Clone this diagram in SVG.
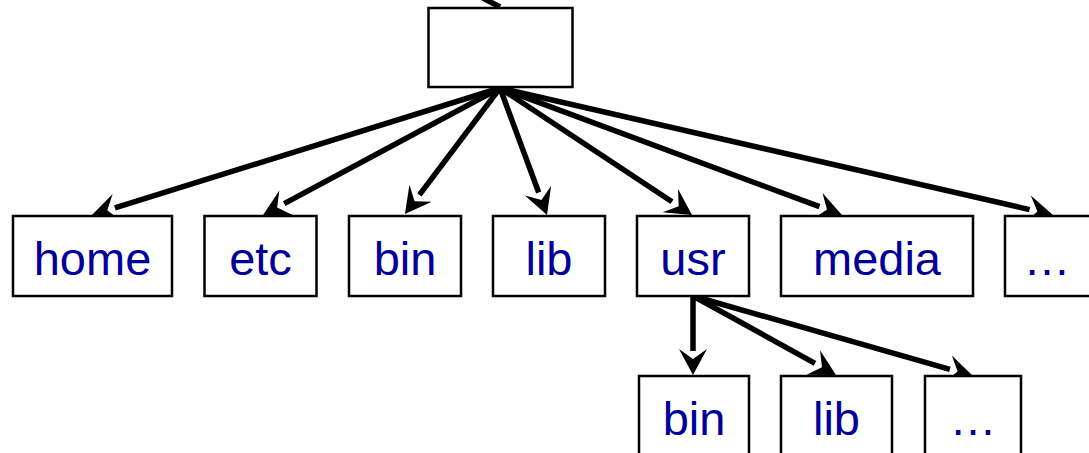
<svg xmlns="http://www.w3.org/2000/svg" width="1089" height="453" viewBox="0 0 1089 453">
<style>
.box{fill:#fff;stroke:#000;stroke-width:2.5}
.lbl{font-family:"Liberation Sans",Arial,sans-serif;font-size:47px;fill:#000099;text-anchor:middle}
.edge{stroke:#000;stroke-width:5.5;fill:none;marker-end:url(#ah)}
</style>
<defs>
<marker id="ah" markerUnits="userSpaceOnUse" markerWidth="26" markerHeight="28" refX="1" refY="14" orient="auto" viewBox="0 0 26 28" overflow="visible">
<path d="M-1,0 L25,14 L-1,28 L9,14 z" fill="#000"/>
</marker>
</defs>
<g id="connectors">
<line x1="483" y1="-2" x2="500" y2="7" stroke="#000" stroke-width="5.5"/>
<line class="edge" x1="500" y1="88" x2="114.9" y2="207.9"/>
<line class="edge" x1="500" y1="88" x2="284.2" y2="203.7"/>
<line class="edge" x1="500" y1="88" x2="419.4" y2="194.8"/>
<line class="edge" x1="500" y1="88" x2="538.7" y2="192.5"/>
<line class="edge" x1="500" y1="88" x2="672" y2="201.8"/>
<line class="edge" x1="500" y1="88" x2="819.5" y2="206.7"/>
<line class="edge" x1="500" y1="88" x2="1029.6" y2="209.6"/>
<line class="edge" x1="693" y1="296" x2="693" y2="351"/>
<line class="edge" x1="693" y1="296" x2="815" y2="363.4"/>
<line class="edge" x1="693" y1="296" x2="949.9" y2="369.4"/>
</g>
<g id="root"><rect class="box" x="428.5" y="8" width="144" height="79"/></g>
<g id="home"><rect class="box" x="13" y="216" width="159" height="80"/><text class="lbl" x="92.5" y="275">home</text></g>
<g id="etc"><rect class="box" x="204.5" y="216" width="112" height="80"/><text class="lbl" x="260.5" y="275">etc</text></g>
<g id="bin"><rect class="box" x="349" y="216" width="112" height="80"/><text class="lbl" x="405" y="275">bin</text></g>
<g id="lib"><rect class="box" x="493" y="216" width="112" height="80"/><text class="lbl" x="549" y="275">lib</text></g>
<g id="usr"><rect class="box" x="637" y="216" width="112" height="80"/><text class="lbl" x="693" y="275">usr</text></g>
<g id="media"><rect class="box" x="781" y="216" width="192" height="80"/><text class="lbl" x="877" y="275">media</text></g>
<g id="more"><rect class="box" x="1005" y="216" width="100" height="80"/><text class="lbl" x="1047" y="275">…</text></g>
<g id="usr-bin"><rect class="box" x="639" y="376" width="110" height="90"/><text class="lbl" x="694" y="435">bin</text></g>
<g id="usr-lib"><rect class="box" x="781" y="376" width="111" height="90"/><text class="lbl" x="836.5" y="435">lib</text></g>
<g id="usr-more"><rect class="box" x="925" y="376" width="96" height="90"/><text class="lbl" x="973" y="435">…</text></g>
</svg>
